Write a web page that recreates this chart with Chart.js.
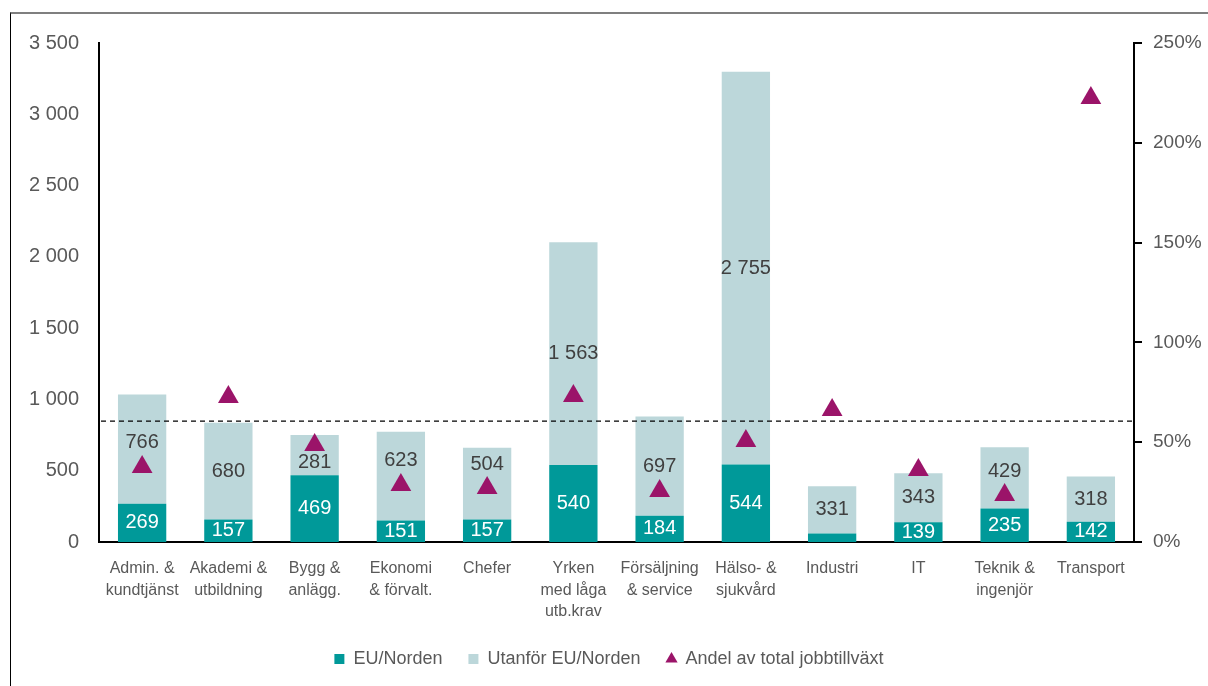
<!DOCTYPE html>
<html>
<head>
<meta charset="utf-8">
<script src="https://cdn.jsdelivr.net/npm/chart.js@4.4.1/dist/chart.umd.min.js"></script>
<style>
  html, body { margin: 0; padding: 0; background: #fff; }
  #wrap { position: relative; width: 1208px; height: 686px; overflow: hidden; }
  #frame { position: absolute; left: 10px; top: 12px; right: 0; bottom: 0;
           border-top: 2px solid #7f7f7f; border-left: 1.5px solid #000; }
  #chart { position: absolute; left: 0; top: 0; }
</style>
</head>
<body>
<div id="wrap">
  <div id="frame"></div>
  <canvas id="chart" width="1208" height="686"></canvas>
</div>
<script>
// ================================
// data
// ================================
const categories = [
  ["Admin. &", "kundtjänst"],
  ["Akademi &", "utbildning"],
  ["Bygg &", "anlägg."],
  ["Ekonomi", "& förvalt."],
  ["Chefer"],
  ["Yrken", "med låga", "utb.krav"],
  ["Försäljning", "& service"],
  ["Hälso- &", "sjukvård"],
  ["Industri"],
  ["IT"],
  ["Teknik &", "ingenjör"],
  ["Transport"]
];

const euNorden = [269, 157, 469, 151, 157, 540, 184, 544, 60, 139, 235, 142];
const utanforEU = [766, 680, 281, 623, 504, 1563, 697, 2755, 331, 343, 429, 318];
const andelJobbtillvaxt = [37.6, 72.6, 48.6, 28.6, 27.0, 73.1, 25.5, 50.6, 66.1, 36.1, 23.5, 222.4];

// shown labels on the EU/Norden bars (null = no label)
const euLabels = [269, 157, 469, 151, 157, 540, 184, 544, null, 139, 235, 142];

const leftMax = 3500;
const leftStep = 500;
const rightMax = 250;
const rightStep = 50;
const referenceShare = 60.6; // dashed line, right axis (%)

const seriesNames = ["EU/Norden", "Utanför EU/Norden", "Andel av total jobbtillväxt"];

// ================================
// styles
// ================================
const TEAL = "#009999";
const LIGHT = "#bcd7da";
const PLUM = "#9b1469";
const TXT = "#595959";
const FONT = "'Liberation Sans Narrow', 'Arial Narrow', 'Liberation Sans', sans-serif";
const TRI_R = 12;

function fmtThousands(v) {
  return String(v).replace(/\B(?=(\d{3})+(?!\d))/g, " ");
}

// labels inside bars + dashed reference line
const barLabelsPlugin = {
  id: "barLabels",
  afterDatasetDraw(chart, args) {
    if (args.index !== 0) return;
    const ctx = chart.ctx;
    ctx.save();
    ctx.font = "20px " + FONT;
    ctx.textAlign = "center";
    ctx.textBaseline = "middle";

    const metaLight = chart.getDatasetMeta(1);
    const metaTri = chart.getDatasetMeta(2);
    metaLight.data.forEach((bar, i) => {
      let y = (bar.y + bar.base) / 2;
      // keep the label clear of the triangle marker
      const tri = metaTri.data[i];
      if (tri && Math.abs(tri.y - y) < 24) {
        const above = tri.y - TRI_R - 12;
        if (above - 10 > bar.y) y = above;
        else y = tri.y + TRI_R / 2 + 11;
      }
      ctx.fillStyle = "#404040";
      ctx.fillText(fmtThousands(utanforEU[i]), bar.x, y);
    });

    const metaEu = chart.getDatasetMeta(0);
    metaEu.data.forEach((bar, i) => {
      if (euLabels[i] == null) return;
      const y = (bar.y + bar.base) / 2;
      ctx.fillStyle = "#ffffff";
      ctx.fillText(fmtThousands(euLabels[i]), bar.x, y);
    });

    // dashed reference line
    const area = chart.chartArea;
    const yRef = chart.scales.y1.getPixelForValue(referenceShare);
    ctx.strokeStyle = "#000";
    ctx.lineWidth = 1.3;
    ctx.setLineDash([5, 4]);
    ctx.beginPath();
    ctx.moveTo(area.left + 2, yRef);
    ctx.lineTo(area.right, yRef);
    ctx.stroke();
    ctx.restore();
  }
};

const ctx = document.getElementById("chart");

new Chart(ctx, {
  type: "bar",
  data: {
    labels: categories,
    datasets: [
      {
        label: seriesNames[0],
        data: euNorden,
        backgroundColor: TEAL,
        stack: "s",
        order: 2,
        pointStyle: "rect",
        barPercentage: 0.56,
        categoryPercentage: 1
      },
      {
        label: seriesNames[1],
        data: utanforEU,
        backgroundColor: LIGHT,
        stack: "s",
        order: 2,
        pointStyle: "rect",
        barPercentage: 0.56,
        categoryPercentage: 1
      },
      {
        type: "line",
        label: seriesNames[2],
        data: andelJobbtillvaxt,
        yAxisID: "y1",
        showLine: false,
        order: 1,
        pointStyle: "triangle",
        pointRadius: TRI_R,
        pointHoverRadius: TRI_R,
        pointBorderWidth: 0,
        backgroundColor: PLUM,
        borderColor: PLUM
      }
    ]
  },
  options: {
    responsive: false,
    animation: false,
    devicePixelRatio: 1,
    layout: { padding: { left: 10, right: 0, top: 43, bottom: 8 } },
    plugins: {
      tooltip: { enabled: false },
      legend: {
        position: "bottom",
        labels: {
          usePointStyle: true,
          boxWidth: 10,
          boxHeight: 10,
          padding: 26,
          color: TXT,
          font: { family: FONT, size: 18 },
          sort: (a, b) => a.datasetIndex - b.datasetIndex
        }
      }
    },
    scales: {
      x: {
        stacked: true,
        grid: { display: false, drawTicks: false },
        border: { display: true, color: "#000", width: 2 },
        ticks: {
          color: TXT,
          font: { family: FONT, size: 16, lineHeight: 1.35 },
          padding: 16,
          maxRotation: 0,
          autoSkip: false
        },
        afterFit(s) { s.height = 82; }
      },
      y: {
        stacked: true,
        min: 0,
        max: leftMax,
        grid: { display: false, drawTicks: false },
        border: { display: true, color: "#000", width: 2 },
        ticks: {
          stepSize: leftStep,
          color: TXT,
          padding: 20,
          font: { family: "'Liberation Sans', Arial, sans-serif", size: 20 },
          callback: v => fmtThousands(v)
        },
        afterFit(s) { s.width = 89; }
      },
      y1: {
        position: "right",
        min: 0,
        max: rightMax,
        grid: { drawOnChartArea: false, drawTicks: true, tickLength: 8, color: "#000", lineWidth: 2 },
        border: { display: true, color: "#000", width: 2 },
        ticks: {
          stepSize: rightStep,
          color: TXT,
          padding: 11,
          font: { family: "'Liberation Sans', Arial, sans-serif", size: 19 },
          callback: v => v + "%"
        },
        afterFit(s) { s.width = 74; }
      }
    }
  },
  plugins: [barLabelsPlugin]
});
</script>
</body>
</html>
